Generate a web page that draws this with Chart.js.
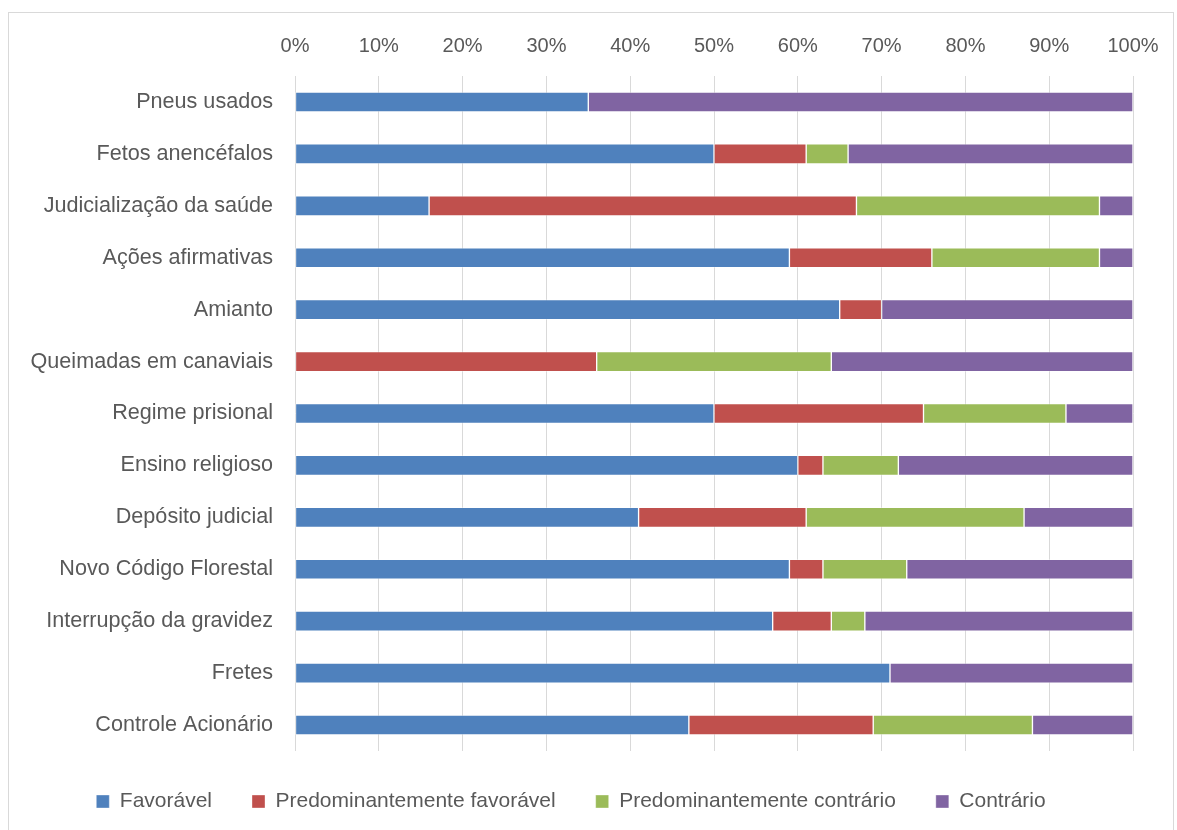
<!DOCTYPE html>
<html>
<head>
<meta charset="utf-8">
<script src="https://cdn.jsdelivr.net/npm/chart.js@4.4.0/dist/chart.umd.min.js"></script>
<style>
  body { margin: 0; background: #fff; }
  #frame {
    position: absolute; left: 8px; top: 12px;
    width: 1166px; height: 830px;
    border: 1px solid #d9d9d9; box-sizing: border-box;
  }
  #chart { display: block; }
</style>
</head>
<body>
<div id="frame"><canvas id="chart" width="1164" height="817"></canvas></div>
<script>
// categories, top to bottom
const topics = [
  'Pneus usados',
  'Fetos anencéfalos',
  'Judicialização da saúde',
  'Ações afirmativas',
  'Amianto',
  'Queimadas em canaviais',
  'Regime prisional',
  'Ensino religioso',
  'Depósito judicial',
  'Novo Código Florestal',
  'Interrupção da gravidez',
  'Fretes',
  'Controle Acionário'
];

// shares in percent
const favoravel       = [35, 50, 16, 59, 65, 0, 50, 60, 41, 59, 57, 71, 47];
const predFavoravel   = [0, 11, 51, 17, 5, 36, 25, 3, 20, 4, 7, 0, 22];
const predContrario   = [0, 5, 29, 20, 0, 28, 17, 9, 26, 10, 4, 0, 19];
const contrario       = [65, 34, 4, 4, 30, 36, 8, 28, 13, 27, 32, 29, 12];

const seriesNames = ['Favorável', 'Predominantemente favorável', 'Predominantemente contrário', 'Contrário'];
const seriesColors = ['#4f81bd', '#c0504d', '#9bbb59', '#8064a2'];
const seriesData = [favoravel, predFavoravel, predContrario, contrario];

const tickLabels = ['0%', '10%', '20%', '30%', '40%', '50%', '60%', '70%', '80%', '90%', '100%'];

const textColor = '#595959';
const fontFamily = '"Liberation Sans", Arial, sans-serif';

const datasets = seriesNames.map((name, i) => ({
  label: name,
  data: seriesData[i],
  backgroundColor: seriesColors[i],
  borderColor: 'rgba(255,255,255,0.35)',
  borderWidth: 1,
  borderSkipped: false,
  barThickness: 20
}));

new Chart(document.getElementById('chart'), {
  type: 'bar',
  data: { labels: topics, datasets: datasets },
  options: {
    indexAxis: 'y',
    responsive: false,
    animation: false,
    layout: { padding: { left: 0, right: 40, top: 0, bottom: 8 } },
    scales: {
      x: {
        position: 'top',
        stacked: true,
        min: 0,
        max: 100,
        afterBuildTicks: (scale) => {
          scale.ticks = tickLabels.map((t, i) => ({ value: i * 10 }));
        },
        ticks: {
          callback: (v, i) => tickLabels[i],
          color: textColor,
          font: { family: fontFamily, size: 20 },
          padding: 18,
          maxRotation: 0
        },
        grid: { color: '#d9d9d9', drawTicks: false },
        border: { display: false },
        afterFit: (scale) => {
          scale.height = 63;
          scale.paddingRight = 0;
          scale.paddingLeft = 0;
        }
      },
      y: {
        stacked: true,
        ticks: {
          color: textColor,
          font: { family: fontFamily, size: 21.6 },
          padding: 14
        },
        grid: { display: false },
        border: { display: false },
        afterFit: (scale) => { scale.width = 286; }
      }
    },
    plugins: {
      legend: {
        position: 'bottom',
        labels: {
          color: textColor,
          font: { family: fontFamily, size: 21 },
          boxWidth: 13,
          boxHeight: 13,
          padding: 40
        }
      },
      tooltip: { enabled: false }
    }
  }
});
</script>
</body>
</html>
